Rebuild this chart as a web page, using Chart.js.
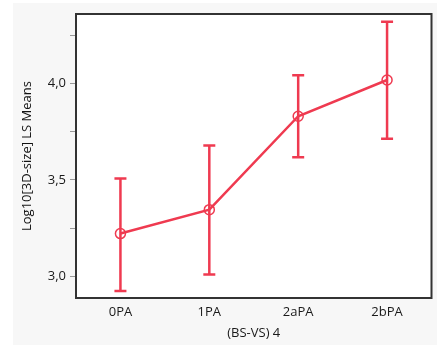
<!DOCTYPE html>
<html>
<head>
<meta charset="utf-8">
<script src="https://cdn.jsdelivr.net/npm/chart.js@4/dist/chart.umd.min.js"></script>
<style>
  html, body { margin: 0; padding: 0; background: #fff; }
  #wrap { width: 438px; height: 345px; }
</style>
</head>
<body>
<div id="wrap"><canvas id="chart" width="438" height="345"></canvas></div>
<script>
const categories = ['0PA', '1PA', '2aPA', '2bPA'];
const means = [3.222, 3.346, 3.830, 4.018];
const upperCI = [3.508, 3.678, 4.043, 4.320];
const lowerCI = [2.924, 3.010, 3.618, 3.714];
const yTickValues = [3.0, 3.25, 3.5, 3.75, 4.0, 4.25];
const yTickLabels = ['3,0', '', '3,5', '', '4,0', ''];

const red = '#ef3a50';
const font = { family: "'Open Sans', 'Noto Sans', sans-serif", size: 13 };

const panel = {
    id: 'panel',
    beforeDraw(chart) {
        const { ctx, chartArea: a } = chart;
        ctx.save();
        ctx.fillStyle = '#ffffff';
        ctx.fillRect(0, 0, chart.width, chart.height);
        ctx.fillStyle = '#f7f7f7';
        ctx.fillRect(13, 3, 424, 342);
        ctx.fillStyle = '#ffffff';
        ctx.fillRect(a.left, a.top, a.right - a.left, a.bottom - a.top);
        ctx.restore();
    },
    afterDraw(chart) {
        const { ctx, chartArea: a } = chart;
        ctx.save();
        ctx.strokeStyle = '#333333';
        ctx.lineWidth = 2;
        ctx.strokeRect(a.left, a.top, a.right - a.left, a.bottom - a.top);
        ctx.restore();
    }
};

const errorBars = {
    id: 'errorBars',
    beforeDatasetsDraw(chart) {
        const { ctx, scales: { x, y } } = chart;
        ctx.save();
        ctx.strokeStyle = red;
        ctx.lineWidth = 2.5;
        categories.forEach((c, i) => {
            const px = x.getPixelForValue(i);
            const top = y.getPixelForValue(upperCI[i]);
            const bot = y.getPixelForValue(lowerCI[i]);
            ctx.beginPath();
            ctx.moveTo(px, top); ctx.lineTo(px, bot);
            ctx.moveTo(px - 6, top); ctx.lineTo(px + 6, top);
            ctx.moveTo(px - 6, bot); ctx.lineTo(px + 6, bot);
            ctx.stroke();
        });
        ctx.restore();
    }
};

new Chart(document.getElementById('chart'), {
    type: 'line',
    data: {
        labels: categories,
        datasets: [{
            data: means,
            borderColor: red,
            borderWidth: 2.5,
            pointRadius: 5,
            pointBorderWidth: 1.5,
            pointBorderColor: red,
            pointBackgroundColor: 'rgba(0,0,0,0)',
            tension: 0
        }]
    },
    options: {
        responsive: false,
        animation: false,
        layout: { padding: { left: 13, top: 14, right: 6, bottom: 0 } },
        plugins: { legend: { display: false }, tooltip: { enabled: false } },
        scales: {
            x: {
                offset: true,
                grid: { display: false, drawTicks: false },
                border: { display: false },
                ticks: { color: '#1a1a1a', font, padding: 6 },
                title: { display: true, text: '(BS-VS) 4', color: '#1a1a1a', font, padding: { top: 3 } },
                afterFit: s => { s.height = 47; }
            },
            y: {
                min: 2.888,
                max: 4.36,
                afterBuildTicks: s => { s.ticks = yTickValues.map(v => ({ value: v })); },
                grid: { drawOnChartArea: false, drawTicks: true, tickLength: 6, color: '#999', tickWidth: 1 },
                border: { display: false },
                ticks: {
                    color: '#1a1a1a', font, padding: 4,
                    callback: (v, i) => yTickLabels[i]
                },
                title: { display: true, text: 'Log10[3D-size] LS Means', color: '#111', font, padding: { top: 6, bottom: 2 } },
                afterFit: s => { s.width = 63; }
            }
        }
    },
    plugins: [panel, errorBars]
});
</script>
</body>
</html>
